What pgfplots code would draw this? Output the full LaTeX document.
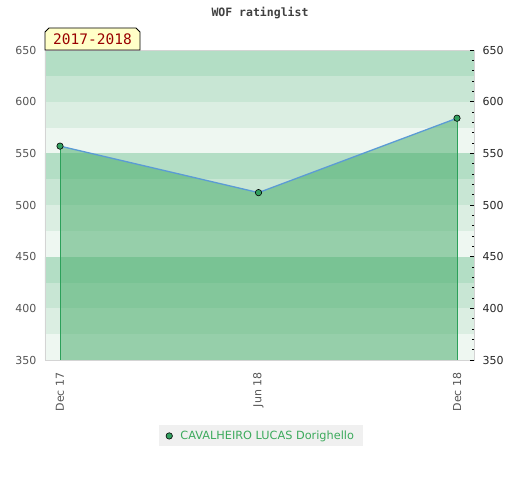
\documentclass[border=0pt]{standalone}
\usepackage{pgfplots}
\pgfplotsset{compat=1.18}
\usepackage{fontspec}
\setmainfont{DejaVu Sans}
\newfontfamily\monofont{DejaVu Sans Mono}
\definecolor{bandA}{HTML}{B3DEC5}
\definecolor{bandB}{HTML}{C8E6D4}
\definecolor{bandC}{HTML}{DBEEE2}
\definecolor{bandD}{HTML}{EEF7F1}
\definecolor{fillgreen}{RGB}{64,169,100}
\definecolor{dropgreen}{HTML}{2CA05A}
\definecolor{markgreen}{HTML}{33A060}
\definecolor{lineblue}{HTML}{5B9BD5}
\definecolor{axisgray}{HTML}{D4D4D4}
\definecolor{labelgray}{HTML}{555555}
\definecolor{legendgray}{HTML}{F0F0F0}
\definecolor{legendtext}{HTML}{3CAA5C}
\definecolor{yeartext}{HTML}{990000}
\definecolor{yearfill}{HTML}{FFFFC8}
\begin{document}
\begin{tikzpicture}[x=1pt,y=1pt]
\path[use as bounding box] (0,0) rectangle (520,480);
\begin{axis}[
  at={(45pt,120pt)}, anchor=south west,
  scale only axis, width=429pt, height=310pt,
  xmin=-0.0756, xmax=2.0856, ymin=350, ymax=650,
  xtick={0,1,2}, xticklabels={Dec 17, Jun 18, Dec 18},
  ytick={350,400,...,650},
  major tick length=0pt,
  axis line style={draw=axisgray, line width=0.8pt},
  /pgf/number format/assume math mode=true,
  xticklabel shift=9pt,
  xticklabel style={rotate=90, anchor=east, font=\fontsize{11}{12}\selectfont, text=labelgray},
  yticklabel style={font=\fontsize{11}{12}\selectfont, text=labelgray, xshift=-5pt},
  legend style={at={(0.5035,-0.245)}, anchor=center, fill=legendgray, draw=none,
    font=\fontsize{11.3}{13}\selectfont, text=legendtext, inner xsep=7pt, inner ysep=3.5pt,
    /tikz/column 1/.style={column sep=6pt}},
  legend cell align=left,
  axis on top,
]
\fill[bandD] (axis cs:-1,350) rectangle (axis cs:3,375);
\fill[bandD] (axis cs:-1,450) rectangle (axis cs:3,475);
\fill[bandD] (axis cs:-1,550) rectangle (axis cs:3,575);
\fill[bandC] (axis cs:-1,375) rectangle (axis cs:3,400);
\fill[bandC] (axis cs:-1,475) rectangle (axis cs:3,500);
\fill[bandC] (axis cs:-1,575) rectangle (axis cs:3,600);
\fill[bandB] (axis cs:-1,400) rectangle (axis cs:3,425);
\fill[bandB] (axis cs:-1,500) rectangle (axis cs:3,525);
\fill[bandB] (axis cs:-1,600) rectangle (axis cs:3,625);
\fill[bandA] (axis cs:-1,425) rectangle (axis cs:3,450);
\fill[bandA] (axis cs:-1,525) rectangle (axis cs:3,550);
\fill[bandA] (axis cs:-1,625) rectangle (axis cs:3,650);
\addplot[draw=none, fill=fillgreen, fill opacity=0.5, forget plot] coordinates {(0,557) (1,512) (2,584)} \closedcycle;
\addplot[ycomb, dropgreen, line width=0.8pt, forget plot] coordinates {(0,557) (2,584)};
\addplot[lineblue, line width=1.3pt, forget plot] coordinates {(0,557) (1,512) (2,584)};
\addplot[only marks, mark=*, mark size=3.2pt, mark options={fill=markgreen, draw=black, line width=0.6pt}] coordinates {(0,557) (1,512) (2,584)};
\addlegendentry{CAVALHEIRO LUCAS Dorighello}
\end{axis}
\begin{axis}[
  at={(45pt,120pt)}, anchor=south west,
  scale only axis, width=429pt, height=310pt,
  xmin=-0.0756, xmax=2.0856, ymin=350, ymax=650,
  axis line style={draw=none},
  xtick=\empty,
  ytick pos=right, yticklabel pos=right,
  ytick={350,400,...,650}, minor y tick num=4,
  tick align=inside, major tick length=4pt, minor tick length=2.5pt,
  tick style={black, line width=0.6pt},
  /pgf/number format/assume math mode=true,
  yticklabel style={font=\fontsize{11}{12}\selectfont, text=black!85, xshift=5pt},
]
\addplot[draw=none] coordinates {(0,500)};
\end{axis}
\node[text=black!75, font=\monofont\bfseries\fontsize{11.5}{13}\selectfont] at (260,467) {WOF ratinglist};
\path[fill=yearfill, draw=black, line width=0.8pt] (45,430) -- (45,448) -- (49,452) -- (136,452) -- (140,448) -- (140,430) -- cycle;
\node[text=yeartext, font=\monofont\fontsize{14.5}{16}\selectfont] at (92.5,440.5) {2017-2018};
\end{tikzpicture}
\end{document}
